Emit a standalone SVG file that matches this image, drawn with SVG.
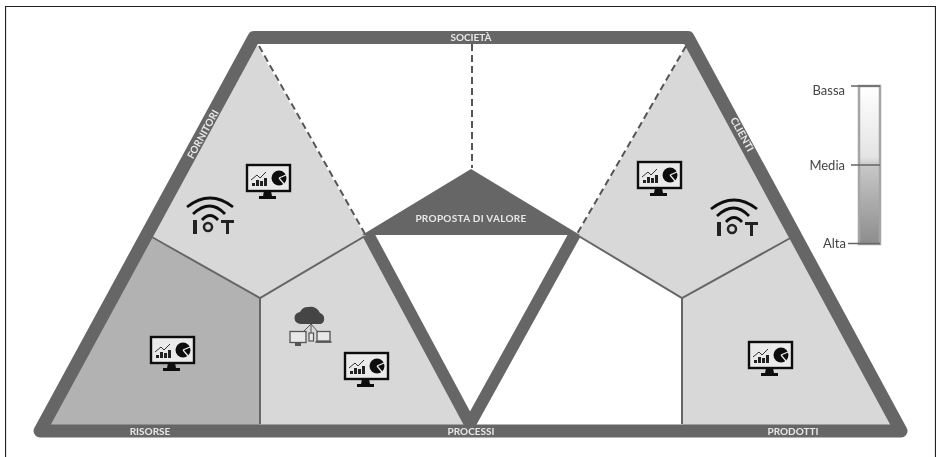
<svg xmlns="http://www.w3.org/2000/svg" width="941" height="457" viewBox="0 0 941 457">
<defs>
<linearGradient id="scale" x1="0" y1="0" x2="0" y2="1"><stop offset="0" stop-color="#ffffff"/><stop offset="0.45" stop-color="#e4e4e4"/><stop offset="0.5" stop-color="#c8c8c8"/><stop offset="1" stop-color="#8c8c8c"/></linearGradient>
<filter id="soft" x="0" y="0" width="100%" height="100%"><feGaussianBlur stdDeviation="0.45"/></filter>
<g id="monitor"><rect x="-22" y="-15" width="43" height="26" fill="#eaeaea" stroke="#111" stroke-width="2.4"/><path d="M-5 11h7l1 5h4v3h-17v-3h4z" fill="#111"/><path d="M-17 6v-3h3v3zM-13 6v-6h3v6zM-9 6v-5h3v5zM-5 6v-8h3v8z" fill="#222"/><path d="M-18 0l6-5 3 3 6-6" fill="none" stroke="#333" stroke-width="1"/><circle cx="10" cy="-2" r="7.5" fill="#111"/><path d="M10-2l7-3M10-2l5 6" stroke="#eee" stroke-width="1.2"/></g>
<g id="iot"><path d="M-23-9Q0-27 23-9M-17-2Q0-18 15-2M-8 4Q0-5 8 4" fill="none" stroke="#111" stroke-width="2.8"/><path d="M-17 4h4v14h-4zM11 4h13v3h-5v11h-3v-11h-5z" fill="#222"/><circle cx="-2" cy="11" r="4" fill="none" stroke="#222" stroke-width="2.500"/></g>
</defs>
<style>
.b{font-family:"Lato","Open Sans",sans-serif;font-size:10px;font-weight:700;fill:#e8e8e8;text-anchor:middle}
.s{font-family:"Lato","Open Sans",sans-serif;font-size:13px;fill:#444;text-anchor:end}
.c{fill:#d8d8d8}
.l{fill:none;stroke:#666;stroke-width:2}
.d{fill:none;stroke:#555;stroke-width:2;stroke-dasharray:7 4}
</style>
<rect width="941" height="457" fill="#fff"/>
<g filter="url(#soft)">
<path d="M5.500 457V6.500H935.500V457" fill="none" stroke="#222" stroke-width="1.200"/>
<g id="cells">
<g id="fornitori-cell"><polygon class="c" points="254,40 365,236 260,298 148,236"/></g>
<g id="risorse-cell"><polygon points="148,236 260,298 260,428 44,428" fill="#b2b2b2"/></g>
<g id="processi-cell"><polygon class="c" points="260,298 365,236 468,428 260,428"/></g>
<g id="clienti-cell"><polygon class="c" points="690,40 577,235 682,298 796,236"/></g>
<g id="prodotti-cell"><polygon class="c" points="682,298 796,236 900,428 682,428"/></g>
</g>
<g id="connectors">
<path class="l" d="M150 236L260 298L365 236M260 298V424M577 235L682 298L794 236M682 298V424"/>
<path class="d" d="M259 46L365 234M686 46L577 234M472 44V168"/>
<path d="M368 234L470 424L575 234" fill="none" stroke="#666" stroke-width="12"/>
<polygon points="254,37.500 688,37.500 901,431 40,431" fill="none" stroke="#666" stroke-width="13" stroke-linejoin="round"/>
</g>
<g id="proposta"><polygon points="471,169 362,235 580,235" fill="#666"/><text class="b" x="471" y="222" style="letter-spacing:.3px">PROPOSTA DI VALORE</text></g>
<g id="labels">
<text class="b" x="471" y="41">SOCIETÀ</text>
<text class="b" x="150" y="435">RISORSE</text>
<text class="b" x="471" y="435">PROCESSI</text>
<text class="b" x="793" y="435">PRODOTTI</text>
<text class="b" transform="translate(206 136) rotate(-61)">FORNITORI</text>
<text class="b" transform="translate(739 136) rotate(61)">CLIENTI</text>
</g>
<g id="icons">
<use href="#monitor" x="269" y="180"/><use href="#monitor" x="173" y="352"/><use href="#monitor" x="367" y="368"/><use href="#monitor" x="660" y="177"/><use href="#monitor" x="771" y="357"/>
<use href="#iot" x="210" y="216"/><use href="#iot" x="734" y="218"/>
<g id="cloud"><path d="M301 324a6 6 0 0 1 -1-12a9 9 0 0 1 9-5a10 10 0 0 1 11 6a6 6 0 0 1 1 11z" fill="#444"/><path d="M311 324l-8 8M311 324v9M311 324l7 8" stroke="#555" fill="none"/><rect x="290" y="331.500" width="16" height="11" fill="#e8e8e8" stroke="#555" stroke-width="1.300"/><rect x="295" y="343" width="6" height="3" fill="#555"/><rect x="309" y="333" width="4.500" height="8" fill="#e8e8e8" stroke="#555" stroke-width="1.200"/><rect x="317" y="331.500" width="13" height="9.500" fill="#e8e8e8" stroke="#555" stroke-width="1.300"/><path d="M315.500 342h16" stroke="#555" stroke-width="1.800"/></g>
</g>
<g id="legend">
<rect x="859" y="86" width="21" height="158" fill="url(#scale)" stroke="#a5a5a5" stroke-width="2.500"/>
<path d="M851 86h29M851 165h29M848 243.500h32" stroke="#666" stroke-width="1.300"/>
<text class="s" x="845" y="95">Bassa</text><text class="s" x="845" y="170">Media</text><text class="s" x="846" y="248">Alta</text>
</g>
</g>
</svg>
